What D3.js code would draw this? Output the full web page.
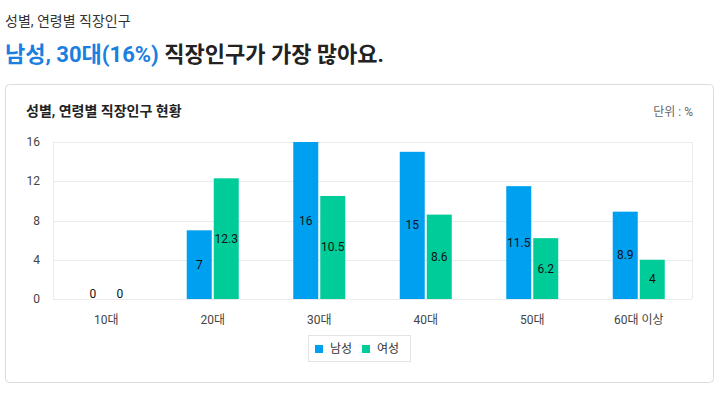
<!DOCTYPE html>
<html lang="ko">
<head>
<meta charset="UTF-8">
<script src="https://d3js.org/d3.v7.min.js"></script>
<style>
  body { margin: 0; background: #fff; font-family: Roboto, "Noto Sans CJK KR", sans-serif; }
  svg text { font-family: Roboto, "Noto Sans CJK KR", sans-serif; }
</style>
</head>
<body>
<div id="chart"></div>
<script>
// data
var ages = ['10대', '20대', '30대', '40대', '50대', '60대 이상']
var male = [0, 7, 16, 15, 11.5, 8.9]
var female = [0, 12.3, 10.5, 8.6, 6.2, 4]
var yTicks = [0, 4, 8, 12, 16]
var seriesNames = ['남성', '여성']
var colors = ['#00a0f0', '#00cc99']

var W = 723, H = 397
var svg = d3.select('#chart').append('svg').attr('width', W).attr('height', H)

// heading
svg.append('text').attr('x', 5).attr('y', 26)
  .attr('font-size', 14).attr('fill', '#333').text('성별, 연령별 직장인구')
var head = svg.append('text').attr('x', 5).attr('y', 62)
  .attr('font-size', 22).attr('font-weight', 'bold').attr('fill', '#222')
head.append('tspan').attr('fill', '#1a7fe0').text('남성, 30대(16%)')
head.append('tspan').text(' 직장인구가 가장 많아요.')

// card
svg.append('rect').attr('x', 5.5).attr('y', 84.5).attr('width', 708).attr('height', 298)
  .attr('rx', 4).attr('fill', '#fff').attr('stroke', '#dcdcdc')
svg.append('text').attr('x', 26).attr('y', 116)
  .attr('font-size', 14).attr('font-weight', 'bold').attr('fill', '#222').text('성별, 연령별 직장인구 현황')
svg.append('text').attr('x', 693).attr('y', 116).attr('text-anchor', 'end')
  .attr('font-size', 12).attr('fill', '#666').text('단위 : %')

// plot
var x0 = 53, x1 = 692, yTop = 142, yBot = 299
var x = d3.scaleBand().domain(ages).range([x0, x1])
var y = d3.scaleLinear().domain([0, 16]).range([yBot, yTop])

var g = svg.append('g')
g.selectAll('.grid').data(yTicks).enter().append('line')
  .attr('x1', x0).attr('x2', x1)
  .attr('y1', function(d) { return Math.round(y(d)) + 0.5 })
  .attr('y2', function(d) { return Math.round(y(d)) + 0.5 })
  .attr('stroke', '#ebebeb')
g.append('line').attr('x1', x0 + 0.5).attr('x2', x0 + 0.5).attr('y1', yTop).attr('y2', yBot).attr('stroke', '#ebebeb')
g.append('line').attr('x1', x1 + 0.5).attr('x2', x1 + 0.5).attr('y1', yTop).attr('y2', yBot).attr('stroke', '#ebebeb')

g.selectAll('.ytick').data(yTicks).enter().append('text')
  .attr('x', 40).attr('y', function(d) { return y(d) + 4 })
  .attr('text-anchor', 'end').attr('font-size', 12).attr('fill', '#444')
  .text(function(d) { return d })

g.selectAll('.xtick').data(ages).enter().append('text')
  .attr('x', function(d) { return x(d) + x.bandwidth() / 2 })
  .attr('y', 324).attr('text-anchor', 'middle')
  .attr('font-size', 12).attr('fill', '#444')
  .text(function(d) { return d })

var barW = 25
var series = [male, female]
series.forEach(function(vals, si) {
  var off = si === 0 ? -barW - 1 : 1
  var bars = g.selectAll('.bar' + si).data(vals).enter()
  bars.append('rect')
    .attr('x', function(d, i) { return x(ages[i]) + x.bandwidth() / 2 + off })
    .attr('y', function(d) { return y(d) })
    .attr('width', barW)
    .attr('height', function(d) { return yBot - y(d) })
    .attr('fill', colors[si])
  bars.append('text')
    .attr('x', function(d, i) { return x(ages[i]) + x.bandwidth() / 2 + off + barW / 2 })
    .attr('y', function(d) { return d === 0 ? yBot - 1 : (y(d) + yBot) / 2 + 4 })
    .attr('text-anchor', 'middle').attr('font-size', 12).attr('fill', '#111')
    .text(function(d) { return d })
})

// legend
var lg = svg.append('g')
lg.append('rect').attr('x', 308.5).attr('y', 335.5).attr('width', 102).attr('height', 26)
  .attr('fill', '#fff').attr('stroke', '#e3e3e3')
var lx = [315, 362]
seriesNames.forEach(function(n, i) {
  lg.append('rect').attr('x', lx[i]).attr('y', 345).attr('width', 8).attr('height', 8).attr('fill', colors[i])
  lg.append('text').attr('x', lx[i] + 15).attr('y', 353).attr('font-size', 12).attr('fill', '#333').text(n)
})
</script>
</body>
</html>
